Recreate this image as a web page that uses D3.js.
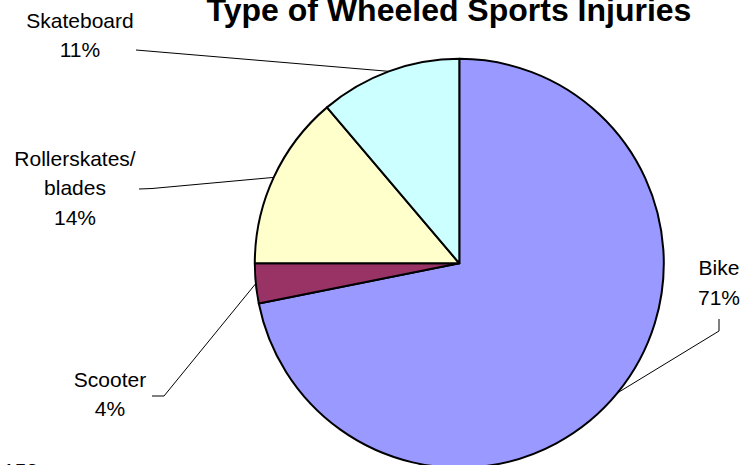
<!DOCTYPE html>
<html>
<head>
<meta charset="utf-8">
<script src="https://cdn.jsdelivr.net/npm/d3@7/dist/d3.min.js"></script>
<style>
  html, body { margin: 0; padding: 0; background: #fff; overflow: hidden; }
  svg { display: block; }
  text { font-family: "Liberation Sans", Arial, sans-serif; fill: #000; }
</style>
</head>
<body>
<svg id="chart" width="743" height="465"></svg>
<script>
// Data
const categories = ["Bike", "Scooter", "Rollerskates/\nblades", "Skateboard"];
const values = [71.85, 3.15, 13.8, 11.2];
const percentLabels = ["71%", "4%", "14%", "11%"];
const colors = ["#9999FF", "#993366", "#FFFFCC", "#CCFFFF"];
const title = "Type of Wheeled Sports Injuries";
const footnote = "153";

// Layout
const W = 743, H = 465;
const cx = 459.3, cy = 263.3, R = 204.5;
const lineH = 29.5;
// label anchor (center x, first baseline), leader line start/elbow
const labelLayout = [
  { x: 719, y: 275, line: [[719, 319], [719, 331]] },
  { x: 110, y: 386.5, line: [[152, 396], [164, 396]] },
  { x: 75, y: 165.5, line: [[139, 189], [152, 188.5]] },
  { x: 80, y: 27.5, line: [[136, 50]] }
];

const svg = d3.select("#chart");
svg.append("rect").attr("width", W).attr("height", H).attr("fill", "#fff");

const pie = d3.pie().sort(null).value(d => d).startAngle(0).endAngle(2 * Math.PI);
const arcs = pie(values);
const arc = d3.arc().innerRadius(0).outerRadius(R);
const edgeArc = d3.arc().innerRadius(R).outerRadius(R);

const g = svg.append("g").attr("transform", `translate(${cx},${cy})`);
g.selectAll("path.slice")
  .data(arcs)
  .enter().append("path")
  .attr("class", "slice")
  .attr("d", arc)
  .attr("fill", (d, i) => colors[i])
  .attr("stroke", "#000")
  .attr("stroke-width", 2)
  .attr("stroke-linejoin", "round");

// leader lines
arcs.forEach((d, i) => {
  const c = edgeArc.centroid(d);
  const pts = labelLayout[i].line.concat([[cx + c[0], cy + c[1]]]);
  svg.append("path")
    .attr("d", d3.line()(pts))
    .attr("fill", "none")
    .attr("stroke", "#000")
    .attr("stroke-width", 1);
});

// labels
categories.forEach((cat, i) => {
  const L = labelLayout[i];
  const lines = cat.split("\n").concat([percentLabels[i]]);
  const t = svg.append("text")
    .attr("text-anchor", "middle")
    .attr("font-size", 21);
  lines.forEach((s, k) => {
    t.append("tspan").attr("x", L.x).attr("y", L.y + k * lineH).text(s);
  });
});

// title
svg.append("text")
  .attr("x", 449)
  .attr("y", 21)
  .attr("text-anchor", "middle")
  .attr("font-size", 32)
  .attr("font-weight", "bold")
  .text(title);

svg.append("text")
  .attr("x", 3)
  .attr("y", 478)
  .attr("font-size", 21)
  .text(footnote);
</script>
</body>
</html>
